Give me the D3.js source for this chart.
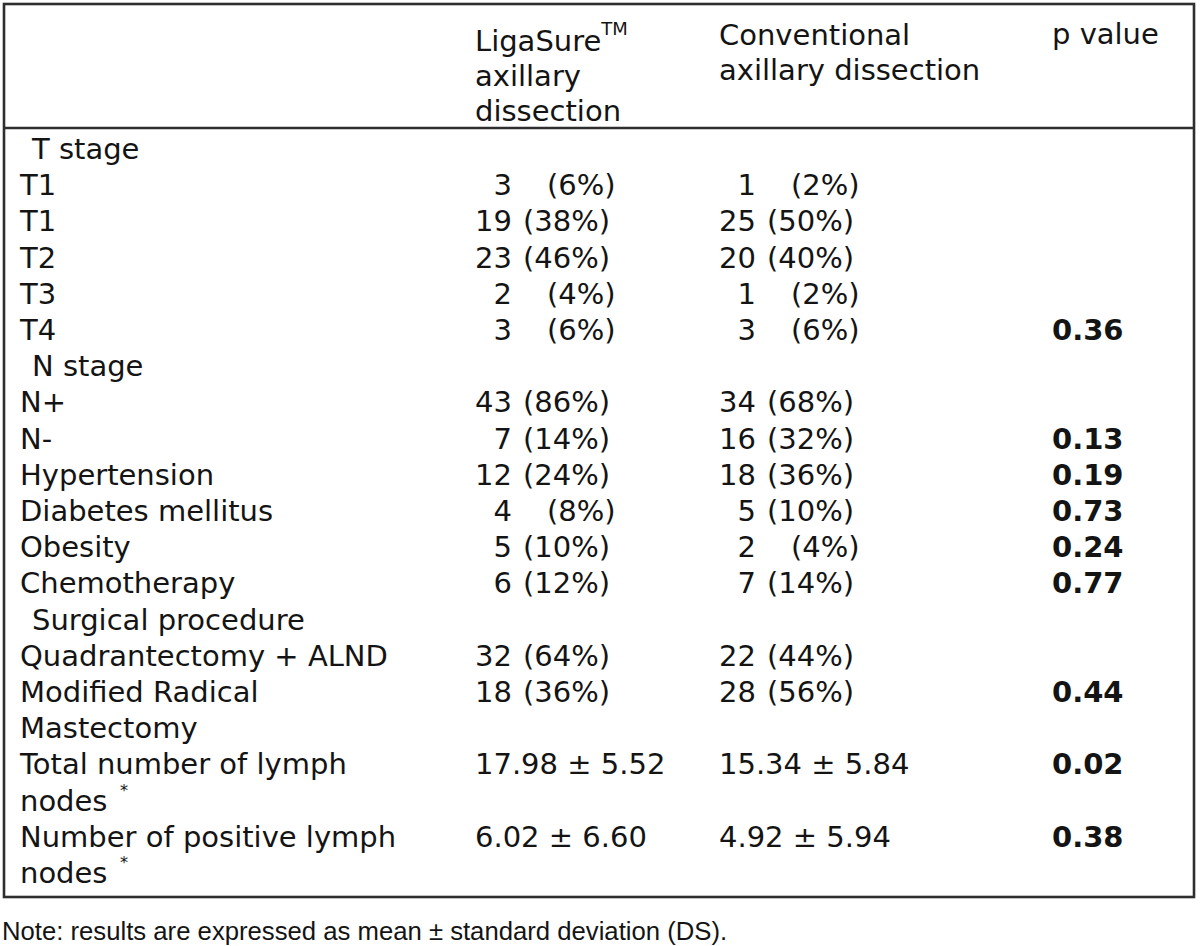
<!DOCTYPE html>
<html>
<head>
<meta charset="utf-8">
<script src="https://cdn.jsdelivr.net/npm/d3@7"></script>
<style>
  html, body { margin: 0; padding: 0; background: #fff; }
  svg { display: block; }
</style>
</head>
<body>
<div id="chart"></div>
<script>
// ---------- DATA ----------
const rowLabels = ["T stage","T1","T1","T2","T3","T4","N stage","N+","N-","Hypertension",
  "Diabetes mellitus","Obesity","Chemotherapy","Surgical procedure","Quadrantectomy + ALND",
  "Modified Radical|Mastectomy","Total number of lymph|nodes","Number of positive lymph|nodes"];
const groupHeaders = ["T stage","N stage","Surgical procedure"];
const starredRows = ["Total number of lymph|nodes","Number of positive lymph|nodes"];
const ligaCounts = [null,3,19,23,2,3,null,43,7,12,4,5,6,null,32,18,null,null];
const ligaPcts   = [null,6,38,46,4,6,null,86,14,24,8,10,12,null,64,36,null,null];
const convCounts = [null,1,25,20,1,3,null,34,16,18,5,2,7,null,22,28,null,null];
const convPcts   = [null,2,50,40,2,6,null,68,32,36,10,4,14,null,44,56,null,null];
const ligaMeanSD = [null,null,null,null,null,null,null,null,null,null,null,null,null,null,null,null,"17.98 ± 5.52","6.02 ± 6.60"];
const convMeanSD = [null,null,null,null,null,null,null,null,null,null,null,null,null,null,null,null,"15.34 ± 5.84","4.92 ± 5.94"];
const pValues    = [null,null,null,null,null,"0.36",null,null,"0.13","0.19","0.73","0.24","0.77",null,null,"0.44","0.02","0.38"];
const headerLiga = ["LigaSure","axillary","dissection"];
const headerLigaSup = "TM";
const headerConv = ["Conventional","axillary dissection"];
const headerP = ["p value"];
const noteText = "Note: results are expressed as mean ± standard deviation (DS).";

// ---------- LAYOUT ----------
const W = 1200, H = 946;
const FONT = "'DejaVu Sans', Verdana, sans-serif";
const FS = 29;
const ink = "#141414";
const lineCol = "#2e2e2e";

const svg = d3.select("#chart").append("svg").attr("width", W).attr("height", H);

// column positions
const col = d3.scaleOrdinal()
  .domain(["label","indent","ligaN","ligaPct1","ligaPct2","ligaStart","convN","convPct1","convPct2","convStart","p"])
  .range([20, 32, 512, 547, 523, 475, 756, 791, 767, 719, 1052]);

// body line baselines
const y = d3.scaleLinear().domain([0, 20]).range([159, 883]);
// header line baselines
const yHead = d3.scaleLinear().domain([0, 1]).range([51, 86]);

// table frame
const frame = { x0: 4, x1: 1194, y0: 4, y1: 897, yHead: 128 };
svg.append("rect")
  .attr("x", frame.x0).attr("y", frame.y0)
  .attr("width", frame.x1 - frame.x0).attr("height", frame.y1 - frame.y0)
  .attr("fill", "none").attr("stroke", lineCol).attr("stroke-width", 2.6);
svg.append("line")
  .attr("x1", frame.x0).attr("x2", frame.x1)
  .attr("y1", frame.yHead).attr("y2", frame.yHead)
  .attr("stroke", lineCol).attr("stroke-width", 2.6);

const g = svg.append("g").attr("font-family", FONT).attr("font-size", FS).attr("fill", ink);

// header
headerLiga.forEach((t, i) => {
  const tx = g.append("text").attr("x", col("ligaStart")).attr("y", yHead(i)).text(t);
  if (i === 0) {
    tx.append("tspan").attr("font-size", 18).attr("dy", -16).text(headerLigaSup);
  }
});
headerConv.forEach((t, i) => {
  g.append("text").attr("x", col("convStart")).attr("y", yHead(i) - 6).text(t);
});
headerP.forEach((t, i) => {
  g.append("text").attr("x", col("p")).attr("y", yHead(i) - 7).text(t);
});

// body rows
let line = 0;
rowLabels.forEach((lab, i) => {
  const parts = lab.split("|");
  const isGroup = groupHeaders.includes(lab);
  const starred = starredRows.includes(lab);
  parts.forEach((p, k) => {
    g.append("text")
      .attr("x", isGroup ? col("indent") : col("label"))
      .attr("y", y(line + k))
      .text(p);
    if (starred && k === parts.length - 1) {
      // superscript asterisk after "nodes"
      g.append("text")
        .attr("x", col("label") + 100)
        .attr("y", y(line + k) - 15)
        .attr("font-size", 16)
        .text("*");
    }
  });
  const yy = y(line);
  if (ligaCounts[i] != null) {
    g.append("text").attr("x", col("ligaN")).attr("y", yy).attr("text-anchor", "end").text(ligaCounts[i]);
    g.append("text").attr("x", ligaPcts[i] >= 10 ? col("ligaPct2") : col("ligaPct1")).attr("y", yy).text("(" + ligaPcts[i] + "%)");
  }
  if (convCounts[i] != null) {
    g.append("text").attr("x", col("convN")).attr("y", yy).attr("text-anchor", "end").text(convCounts[i]);
    g.append("text").attr("x", convPcts[i] >= 10 ? col("convPct2") : col("convPct1")).attr("y", yy).text("(" + convPcts[i] + "%)");
  }
  if (ligaMeanSD[i] != null) {
    g.append("text").attr("x", col("ligaStart")).attr("y", yy).text(ligaMeanSD[i]);
  }
  if (convMeanSD[i] != null) {
    g.append("text").attr("x", col("convStart")).attr("y", yy).text(convMeanSD[i]);
  }
  if (pValues[i] != null) {
    g.append("text").attr("x", col("p")).attr("y", yy).attr("font-weight", "bold").text(pValues[i]);
  }
  line += parts.length;
});

// note
svg.append("text")
  .attr("x", 2).attr("y", 940)
  .attr("font-family", "'Liberation Sans', Arial, sans-serif")
  .attr("font-size", 25.7)
  .attr("fill", ink)
  .text(noteText);
</script>
</body>
</html>
